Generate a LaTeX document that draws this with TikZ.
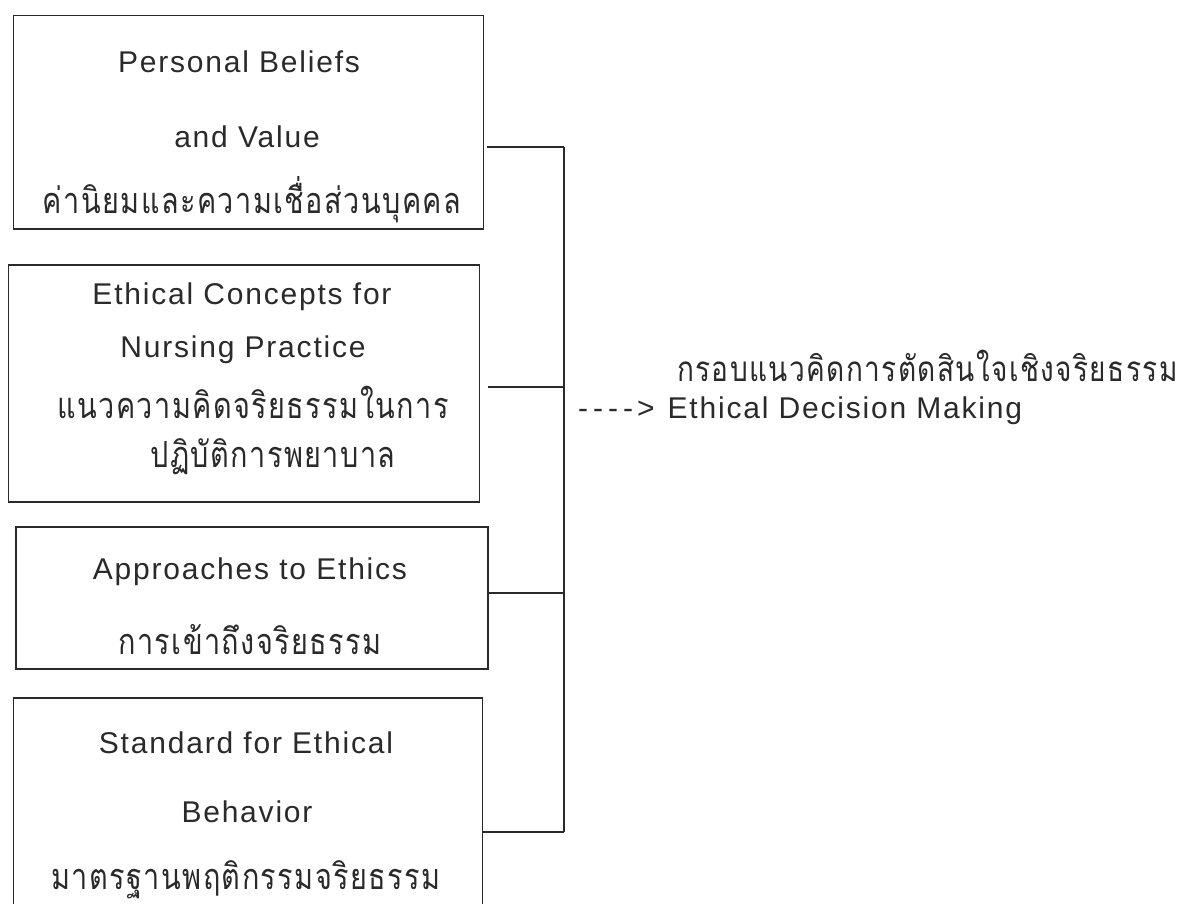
\documentclass[tikz,border=0pt]{standalone}
\usepackage{fontspec}
\newfontfamily\latinf[LetterSpace=6,Ligatures=TeXOff]{Liberation Sans}
\newfontfamily\thaif[Script=Thai,LetterSpace=4,FakeStretch=0.8]{Loma}
\definecolor{ink}{HTML}{2A2A2A}
\tikzset{
  box/.style={draw=ink, line width=1.5pt, rectangle, anchor=north west, inner sep=0pt},
  lat/.style={font=\latinf\fontsize{30}{36}\selectfont, text=ink, inner sep=0pt},
  th/.style={font=\thaif\fontsize{36}{42}\selectfont, text=ink, inner sep=0pt},
  link/.style={draw=ink, line width=1.8pt}
}
\begin{document}
\begin{tikzpicture}[x=1pt,y=-1pt]
\useasboundingbox (0,0) rectangle (1188,904);
\clip (0,0) rectangle (1188,904);
\fill[white] (0,0) rectangle (1188,904);

% boxes
\node[box, minimum width=470pt, minimum height=213pt] (b1) at (12.6,15) {};
\node[box, minimum width=471pt, minimum height=237pt] (b2) at (7.7,264) {};
\node[box, minimum width=472pt, minimum height=142pt] (b3) at (15.3,526) {};
\node[box, minimum width=469pt, minimum height=240pt] (b4) at (12.6,697) {};

% texts box 1
\node[lat] (t11) at (239,62) {Personal Beliefs};
\node[lat] (t12) at (247,137) {and Value};
\node[th]  (t13) at (252,200) {ค่านิยมและความเชื่อส่วนบุคคล};
% box 2
\node[lat] (t21) at (242,297) {Ethical Concepts for};
\node[lat] (t22) at (243,350) {Nursing Practice};
\node[th]  (t23) at (253,402) {แนวความคิดจริยธรรมในการ};
\node[th]  (t24) at (273,457) {ปฏิบัติการพยาบาล};
% box 3
\node[lat] (t31) at (250,572) {Approaches to Ethics};
\node[th]  (t32) at (250,640) {การเข้าถึงจริยธรรม};
% box 4
\node[lat] (t41) at (246,743) {Standard for Ethical};
\node[lat] (t42) at (247,812) {Behavior};
\node[th]  (t43) at (246,880) {มาตรฐานพฤติกรรมจริยธรรม};

% right side
\node[th, font=\thaif\fontsize{35}{40}\selectfont, anchor=west] (r1) at (677,366) {กรอบแนวคิดการตัดสินใจเชิงจริยธรรม};
\node[lat, anchor=west] (r2) at (578,411) {-\kern5pt-\kern5pt-\kern5pt-\kern4pt>\hspace{13pt}Ethical Decision Making};

% connectors
\coordinate (top) at (564,147);
\coordinate (j2) at (564,387);
\coordinate (j3) at (564,593);
\coordinate (bot) at (564,832);
\draw[link] (b1.north east |- top) ++(3,0) -- (top);
\draw[link] (488,387) coordinate (s2) -- (j2);
\draw[link] (b3.north east |- j3) -- (j3);
\draw[link] (b4.north east |- bot) -- (bot);
\draw[link] (top) -- (bot);
\end{tikzpicture}
\end{document}
